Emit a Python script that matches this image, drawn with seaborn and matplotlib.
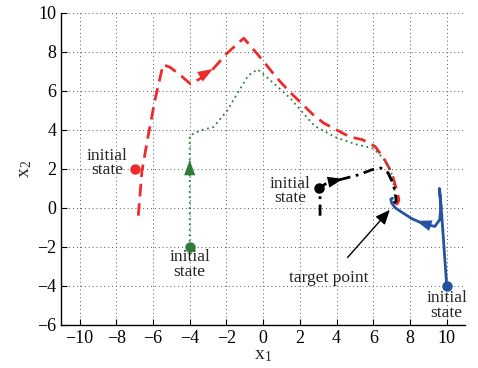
import numpy as np
import pandas as pd
import seaborn as sns
import matplotlib.pyplot as plt

# trajectories
red_x = [-6.8, -6.6, -6.3, -5.9, -5.45, -5.05, -4.5, -3.95, -3.3, -2.75, -2.0, -1.3, -1.05,
         -0.6, -0.05, 0.5, 0.95, 1.5, 2.1, 2.7, 3.3, 4.0, 4.7, 5.4, 6.1, 6.6, 7.0, 7.25, 7.4, 7.3, 7.15]
red_y = [-0.4, 1.9, 3.5, 5.5, 7.35, 7.2, 6.8, 6.35, 6.7, 7.1, 7.9, 8.5, 8.7,
         8.2, 7.6, 6.95, 6.45, 5.9, 5.35, 4.8, 4.35, 4.0, 3.65, 3.5, 3.15, 2.5, 1.8, 1.0, 0.4, 0.2, 0.3]

green_x = [-4.0, -4.0, -4.0, -4.0, -3.7, -3.3, -2.7, -1.95, -1.35, -0.8, -0.3, 0.2, 0.8,
           1.45, 2.1, 2.8, 3.4, 4.0, 5.1, 6.0, 6.5, 6.95, 7.15, 7.2]
green_y = [-2.0, 0.5, 2.2, 3.7, 3.85, 4.0, 4.15, 5.0, 5.95, 6.8, 7.1, 6.7, 6.2,
           5.65, 4.95, 4.2, 3.9, 3.6, 3.25, 3.05, 2.6, 1.95, 1.0, 0.4]

black_x = [3.1, 3.1, 3.05, 3.5, 4.4, 5.2, 5.9, 6.4, 6.8, 7.05, 7.2, 7.25, 7.1]
black_y = [-0.4, 0.6, 1.0, 1.3, 1.5, 1.7, 1.95, 2.05, 1.8, 1.3, 0.8, 0.35, 0.25]

blue_x = [10.0, 9.85, 9.7, 9.6, 9.68, 9.62, 9.35, 8.7, 8.1, 7.6, 7.2, 7.0, 6.95, 7.05]
blue_y = [-4.0, -2.0, 0.0, 1.0, 0.1, -0.6, -0.95, -0.8, -0.55, -0.25, 0.0, 0.25, 0.45, 0.5]

init_x = [-7.0, -4.0, 3.05, 10.0]
init_y = [2.0, -2.0, 1.0, -4.0]

red_c = '#ee2b2b'
green_c = '#2e7d3a'
black_c = '#000000'
blue_c = '#2453a4'

sns.set_style('ticks', {'xtick.direction': 'in', 'ytick.direction': 'in'})
plt.rcParams['font.family'] = ['Liberation Serif', 'DejaVu Serif']
plt.rcParams['mathtext.fontset'] = 'stix'

fig = plt.figure(figsize=(4.78, 3.68), dpi=100)
ax = fig.add_axes([0.128, 0.117, 0.845, 0.848])

sns.lineplot(x=red_x, y=red_y, sort=False, estimator=None, color=red_c, lw=2, linestyle=(0, (4.5, 2.5)), ax=ax)
sns.lineplot(x=green_x, y=green_y, sort=False, estimator=None, color=green_c, lw=1.3, linestyle=(0, (1, 2)), ax=ax)
sns.lineplot(x=black_x, y=black_y, sort=False, estimator=None, color=black_c, lw=2, linestyle=(0, (4, 2, 1, 2)), ax=ax)
sns.lineplot(x=blue_x, y=blue_y, sort=False, estimator=None, color=blue_c, lw=2, ax=ax)

cols = [red_c, green_c, black_c, blue_c]
for x0, y0, c in zip(init_x, init_y, cols):
    ax.plot(x0, y0, 'o', color=c, ms=6.5)

# direction arrows on the trajectories
arrows = [((-2.6, 7.2), (-3.4, 6.75), red_c),
          ((-4.0, 2.6), (-4.0, 1.5), green_c),
          ((4.5, 1.52), (3.6, 1.33), black_c),
          ((8.2, -0.62), (9.1, -0.9), blue_c)]
for tip, tail, c in arrows:
    ax.annotate('', xy=tip, xytext=tail,
                arrowprops=dict(arrowstyle='-|>,head_length=1.1,head_width=0.4', color=c, lw=0))

fs = 12.5
ax.text(-8.5, 2.3, 'initial\nstate', ha='center', va='center', fontsize=fs, linespacing=0.85)
ax.text(-4.0, -2.9, 'initial\nstate', ha='center', va='center', fontsize=fs, linespacing=0.85)
ax.text(1.45, 0.85, 'initial\nstate', ha='center', va='center', fontsize=fs, linespacing=0.85)
ax.text(10.0, -5.0, 'initial\nstate', ha='center', va='center', fontsize=fs, linespacing=0.85)
ax.annotate('target point', xy=(6.9, -0.1), xytext=(3.6, -3.6), ha='center', va='center', fontsize=fs,
            arrowprops=dict(arrowstyle='-|>,head_length=0.7,head_width=0.3', color='black', lw=1,
                            shrinkA=9, shrinkB=0))

ax.set_xlim(-11, 11)
ax.set_ylim(-6, 10)
ax.set_xticks(np.arange(-10, 11, 2))
ax.set_yticks(np.arange(-6, 11, 2))
ax.set_xticklabels([str(v).replace('-', '\u2212') for v in range(-10, 11, 2)])
ax.set_yticklabels([str(v).replace('-', '\u2212') for v in range(-6, 11, 2)])
ax.tick_params(labelsize=13, length=4, width=0.8, colors='black')
ax.grid(True, linestyle=(0, (1, 3)), color='#555555', lw=0.7)
ax.set_axisbelow(True)
for s in ['top', 'right']:
    ax.spines[s].set_visible(False)
for s in ['left', 'bottom']:
    ax.spines[s].set_color('black')
    ax.spines[s].set_linewidth(1)

ax.set_xlabel('x$_\\mathregular{1}$', fontsize=14, labelpad=0)
ax.set_ylabel('x$_\\mathregular{2}$', fontsize=14, labelpad=2)

fig.savefig('out.png', dpi=100)
